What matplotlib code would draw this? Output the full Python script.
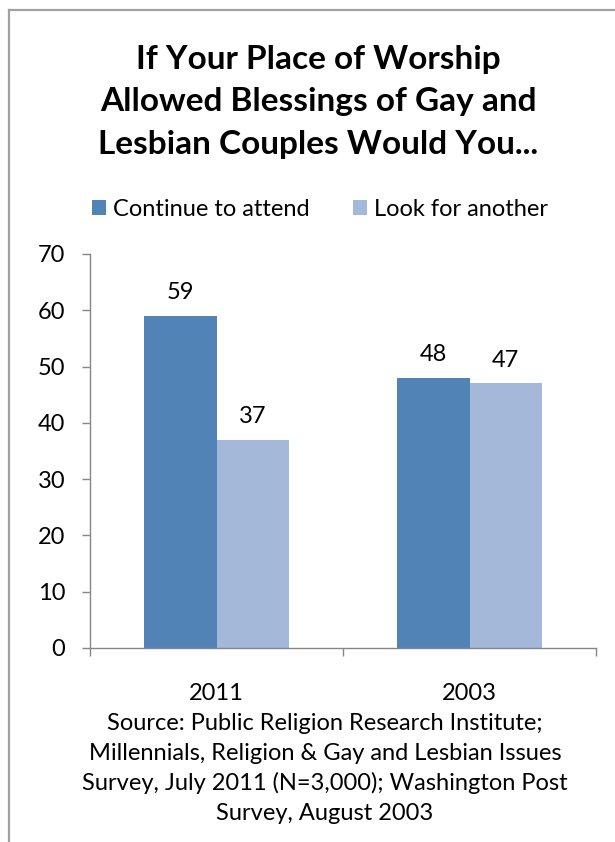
import matplotlib
matplotlib.use('Agg')
import matplotlib.pyplot as plt
from matplotlib.lines import Line2D

# data
years = ['2011', '2003']
continue_vals = [59, 48]
look_vals = [37, 47]
series_names = ['Continue to attend', 'Look for another']
yticks = [0, 10, 20, 30, 40, 50, 60, 70]

title = 'If Your Place of Worship\nAllowed Blessings of Gay and\nLesbian Couples Would You...'
source = ('Source: Public Religion Research Institute;\n'
          'Millennials, Religion & Gay and Lesbian Issues\n'
          'Survey, July 2011 (N=3,000); Washington Post\n'
          'Survey, August 2003')

plt.rcParams['font.family'] = ['Lato', 'DejaVu Sans']

W, H = 615, 842
fig = plt.figure(figsize=(W / 100, H / 100), dpi=100)
fig.patch.set_facecolor('white')

# chart area frame (left + top edges only visible)
fig.add_artist(Line2D([9 / W, 9 / W], [0, 1 - 9.5 / H], transform=fig.transFigure,
                      color='#A0A0A0', lw=1.6))
fig.add_artist(Line2D([9 / W, 1], [1 - 9.5 / H, 1 - 9.5 / H], transform=fig.transFigure,
                      color='#A0A0A0', lw=1.6))

ax = fig.add_axes([90 / W, 1 - 648 / H, (596 - 90) / W, (648 - 254) / H])

dark = '#5283B7'
light = '#A4B8DA'
bw = 0.285
xpos = [0.5 + i for i in range(len(years))]

b1 = ax.bar([x - bw / 2 for x in xpos], continue_vals, width=bw, color=dark,
            label=series_names[0])
b2 = ax.bar([x + bw / 2 for x in xpos], look_vals, width=bw, color=light,
            label=series_names[1])
ax.bar_label(b1, padding=9, fontsize=17)
ax.bar_label(b2, padding=9, fontsize=17)

ax.set_xlim(0, len(years))
ax.set_ylim(0, 70)
ax.set_yticks(yticks)
ax.tick_params(axis='y', labelsize=17, length=5.8, width=1, color='#868686', pad=12)

# category boundaries as major ticks, labels on minor ticks
ax.set_xticks(range(len(years) + 1))
ax.set_xticklabels([])
ax.set_xticks(xpos, minor=True)
ax.set_xticklabels(years, minor=True)
ax.tick_params(axis='x', which='major', length=5.8, width=1, color='#868686')
ax.tick_params(axis='x', which='minor', length=0, labelsize=17, pad=25)

for s in ['top', 'right']:
    ax.spines[s].set_visible(False)
for s in ['left', 'bottom']:
    ax.spines[s].set_color('#868686')
    ax.spines[s].set_linewidth(1)

fig.text(318 / W, 1 - 102 / H, title, ha='center', va='center', fontsize=24,
         fontweight='bold', linespacing=1.58)

fig.legend(handles=[b1, b2], loc='center', bbox_to_anchor=(320 / W, 1 - 209 / H),
           ncol=2, frameon=False, fontsize=17, handlelength=0.6, handleheight=0.6,
           handletextpad=0.3, columnspacing=1.8)

fig.text(325 / W, 1 - 768.5 / H, source, ha='center', va='center', fontsize=17,
         linespacing=1.48)

fig.savefig('out.png', dpi=100)
